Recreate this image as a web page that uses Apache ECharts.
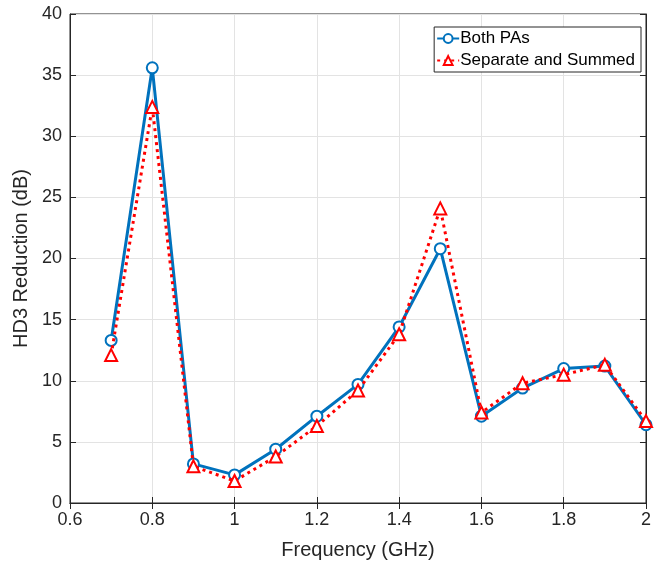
<!DOCTYPE html>
<html>
<head>
<meta charset="utf-8">
<script src="https://cdn.jsdelivr.net/npm/echarts@6/dist/echarts.min.js"></script>
<style>html,body{margin:0;padding:0;background:#fff}#c{width:654px;height:568px}</style>
</head>
<body>
<div id="c"></div>
<script>
var freqs = [0.7, 0.8, 0.9, 1.0, 1.1, 1.2, 1.3, 1.4, 1.5, 1.6, 1.7, 1.8, 1.9, 2.0];
var bothPAs = [13.3, 35.6, 3.2, 2.3, 4.4, 7.1, 9.7, 14.4, 20.8, 7.1, 9.4, 11.0, 11.2, 6.4];
var separateSummed = [12.1, 32.4, 3.0, 1.8, 3.8, 6.3, 9.2, 13.8, 24.1, 7.4, 9.8, 10.5, 11.3, 6.7];
var seriesNames = ['Both PAs', 'Separate and Summed'];
var xLabel = 'Frequency (GHz)';
var yLabel = 'HD3 Reduction (dB)';

function pairs(xs, ys) { return xs.map(function (x, i) { return [x, ys[i]]; }); }

var font = 'Liberation Sans, Arial, Helvetica, sans-serif';
var axisColor = '#262626';
var chart = echarts.init(document.getElementById('c'), null, {renderer: 'canvas'});
chart.setOption({
  animation: false,
  backgroundColor: '#fff',
  grid: {left: 70, right: 4, top: 14, bottom: 65, show: true, borderColor: axisColor, borderWidth: 1, backgroundColor: 'transparent'},
  legend: {
    right: 13, top: 27, orient: 'vertical',
    backgroundColor: '#fff', borderColor: axisColor, borderWidth: 1,
    padding: [3, 6, 3, 2], itemGap: 5, itemWidth: 22, itemHeight: 11,
    textStyle: {fontFamily: font, fontSize: 17, color: '#000', padding: [0, 0, 0, -4]},
    data: seriesNames
  },
  xAxis: [{
    type: 'value', min: 0.6, max: 2, interval: 0.2,
    name: xLabel, nameLocation: 'middle', nameGap: 37,
    nameTextStyle: {fontFamily: font, fontSize: 20, color: '#262626'},
    axisLine: {show: true, lineStyle: {color: axisColor}},
    axisTick: {show: true, inside: true, length: 6, lineStyle: {color: axisColor}},
    axisLabel: {fontFamily: font, fontSize: 18, color: '#262626', margin: 8,
      formatter: function (v) { return String(Math.round(v * 10) / 10); }},
    splitLine: {show: true, lineStyle: {color: '#e3e3e3'}}
  }, {
    type: 'value', min: 0.6, max: 2, interval: 0.2, position: 'top',
    axisLine: {show: true, lineStyle: {color: axisColor}},
    axisTick: {show: true, inside: true, length: 6, lineStyle: {color: axisColor}},
    axisLabel: {show: false}, splitLine: {show: false}
  }],
  yAxis: [{
    type: 'value', min: 0, max: 40, interval: 5,
    name: yLabel, nameLocation: 'middle', nameGap: 38, nameRotate: 90,
    nameTextStyle: {fontFamily: font, fontSize: 20, color: '#262626'},
    axisLine: {show: true, lineStyle: {color: axisColor}},
    axisTick: {show: true, inside: true, length: 6, lineStyle: {color: axisColor}},
    axisLabel: {fontFamily: font, fontSize: 18, color: '#262626', margin: 8},
    splitLine: {show: true, lineStyle: {color: '#e3e3e3'}}
  }, {
    type: 'value', min: 0, max: 40, interval: 5, position: 'right',
    axisLine: {show: true, lineStyle: {color: axisColor}},
    axisTick: {show: true, inside: true, length: 6, lineStyle: {color: axisColor}},
    axisLabel: {show: false}, splitLine: {show: false}
  }],
  series: [{
    name: seriesNames[0], type: 'line', data: pairs(freqs, bothPAs),
    symbol: 'emptyCircle', symbolSize: 11, z: 3,
    lineStyle: {color: '#0072BD', width: 3},
    itemStyle: {color: '#0072BD', borderColor: '#0072BD', borderWidth: 2}
  }, {
    name: seriesNames[1], type: 'line', data: pairs(freqs, separateSummed),
    symbol: 'emptyTriangle', symbolSize: 12, z: 4,
    lineStyle: {color: '#FF0000', width: 3, type: [3, 4]},
    itemStyle: {color: '#FF0000', borderColor: '#FF0000', borderWidth: 2.5}
  }]
});
</script>
</body>
</html>
